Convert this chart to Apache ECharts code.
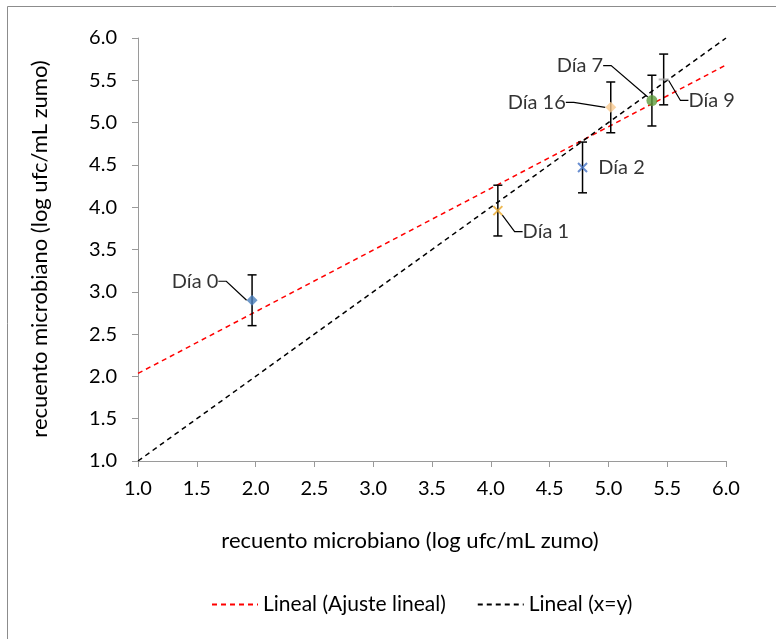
<!DOCTYPE html>
<html>
<head>
<meta charset="utf-8">
<script src="https://cdn.jsdelivr.net/npm/echarts@6/dist/echarts.min.js"></script>
<style>
  html, body { margin: 0; padding: 0; background: #fff; }
  #chart { width: 776px; height: 639px; }
</style>
</head>
<body>
<div id="chart"></div>
<script>
// Sampling days and their microbial counts (log ufc/mL zumo)
const dayLabels = ['Día 0', 'Día 1', 'Día 2', 'Día 7', 'Día 9', 'Día 16'];
const xValues   = [1.97, 4.06, 4.78, 5.37, 5.47, 5.02];
const yValues   = [2.90, 3.96, 4.47, 5.26, 5.51, 5.18];
const yErrors   = [0.30, 0.30, 0.30, 0.30, 0.30, 0.30];

// Axis range and tick step (both axes)
const axisMin = 1.0;
const axisMax = 6.0;
const axisStep = 0.5;

const fitName = 'Lineal (Ajuste lineal)';
const identityName = 'Lineal (x=y)';
const axisTitle = 'recuento microbiano (log ufc/mL zumo)';

// Marker look for each day, plus where its label sits relative to the marker (px)
const CROSS = 'path://M0,0L10,10M10,0L0,10';
const DASH = 'path://M0,4L10,4L10,6L0,6Z';
const markerStyles = [
  { symbol: 'diamond', size: 11, color: '#4A7EBB', dx: -57, dy: -19, leader: true },
  { symbol: CROSS, size: 9, stroke: '#E9A82A', dx: 48, dy: 21, leader: true },
  { symbol: CROSS, size: 9, stroke: '#4472C4', dx: 39, dy: 0, leader: false },
  { symbol: 'circle', size: 11, color: '#5E9C3C', dx: -72, dy: -35, leader: true },
  { symbol: DASH, size: 10, color: '#A5A5A5', dx: 48, dy: 21, leader: true },
  { symbol: 'diamond', size: 11, color: '#F9C98E', dx: -74, dy: -5, leader: true }
];

// Least-squares fit through the measured points
function linearFit(xs, ys) {
  const n = xs.length;
  const mx = xs.reduce((s, v) => s + v, 0) / n;
  const my = ys.reduce((s, v) => s + v, 0) / n;
  let sxy = 0, sxx = 0;
  for (let i = 0; i < n; i++) {
    sxy += (xs[i] - mx) * (ys[i] - my);
    sxx += (xs[i] - mx) * (xs[i] - mx);
  }
  const slope = sxy / sxx;
  return { slope, intercept: my - slope * mx };
}
const fit = linearFit(xValues, yValues);

const fontFamily = 'Lato, "Open Sans", sans-serif';
const textColor = '#000';
const axisColor = '#9A9A9A';

const chart = echarts.init(document.getElementById('chart'), null, { renderer: 'canvas' });

const axisCommon = {
  type: 'value',
  min: axisMin,
  max: axisMax,
  interval: axisStep,
  splitLine: { show: false },
  axisLine: { show: true, onZero: false, lineStyle: { color: axisColor, width: 1 } },
  axisTick: { show: true, inside: false, length: 6, lineStyle: { color: axisColor, width: 1 } },
  axisLabel: {
    color: textColor,
    fontFamily: fontFamily,
    fontSize: 20,
    formatter: v => v.toFixed(1)
  }
};

const series = [
  {
    name: fitName,
    type: 'line',
    data: [[axisMin, fit.intercept + fit.slope * axisMin], [axisMax, fit.intercept + fit.slope * axisMax]],
    symbol: 'none',
    lineStyle: { color: '#FF0000', width: 1.5, type: [5, 4] },
    itemStyle: { color: '#FF0000' },
    z: 2,
    silent: true
  },
  {
    name: identityName,
    type: 'line',
    data: [[axisMin, axisMin], [axisMax, axisMax]],
    symbol: 'none',
    lineStyle: { color: '#000000', width: 1.5, type: [5, 4] },
    itemStyle: { color: '#000000' },
    z: 2,
    silent: true
  },
  {
    name: 'error',
    type: 'custom',
    data: xValues.map((x, i) => [x, yValues[i] - yErrors[i], yValues[i] + yErrors[i]]),
    renderItem: function (params, api) {
      const lo = api.coord([api.value(0), api.value(1)]);
      const hi = api.coord([api.value(0), api.value(2)]);
      const cap = 4.5;
      const style = { stroke: '#000', lineWidth: 1.5 };
      return {
        type: 'group',
        children: [
          { type: 'line', shape: { x1: lo[0], y1: lo[1], x2: hi[0], y2: hi[1] }, style },
          { type: 'line', shape: { x1: lo[0] - cap, y1: lo[1], x2: lo[0] + cap, y2: lo[1] }, style },
          { type: 'line', shape: { x1: hi[0] - cap, y1: hi[1], x2: hi[0] + cap, y2: hi[1] }, style }
        ]
      };
    },
    z: 3,
    silent: true
  }
];

dayLabels.forEach((name, i) => {
  const m = markerStyles[i];
  const isStroke = !!m.stroke;
  series.push({
    name: name,
    type: 'scatter',
    data: [[xValues[i], yValues[i]]],
    symbol: m.symbol,
    symbolSize: m.size,
    symbolKeepAspect: true,
    itemStyle: isStroke
      ? { color: 'rgba(0,0,0,0)', borderColor: m.stroke, borderWidth: 2 }
      : { color: m.color },
    label: {
      show: true,
      position: 'inside',
      formatter: name,
      color: textColor,
      fontFamily: fontFamily,
      fontSize: 20
    },
    labelLayout: { dx: m.dx, dy: m.dy },
    labelLine: {
      show: m.leader,
      length2: 8,
      lineStyle: { color: '#000', width: 1.2 }
    },
    z: 4,
    silent: true
  });
});

chart.setOption({
  animation: false,
  backgroundColor: '#fff',
  grid: { left: 138, right: 50, top: 38, bottom: 178, containLabel: false },
  xAxis: Object.assign({}, axisCommon, {
    axisLabel: Object.assign({}, axisCommon.axisLabel, { margin: 18 })
  }),
  yAxis: Object.assign({}, axisCommon, {
    axisLabel: Object.assign({}, axisCommon.axisLabel, { margin: 21 })
  }),
  legend: {
    data: [fitName, identityName],
    left: 206,
    top: 589,
    itemWidth: 46,
    itemHeight: 12,
    itemGap: 31,
    itemStyle: { opacity: 0, color: 'rgba(0,0,0,0)', borderWidth: 0 },
    textStyle: { color: textColor, fontFamily: fontFamily, fontSize: 21 },
    selectedMode: false
  },
  graphic: [
    {
      type: 'rect',
      shape: { x: 7.5, y: 6.5, width: 800, height: 700 },
      style: { fill: 'none', stroke: '#8C8C8C', lineWidth: 1 },
      silent: true
    },
    {
      type: 'text',
      x: 410,
      y: 541,
      style: {
        text: axisTitle,
        fill: textColor,
        font: '22px ' + fontFamily,
        align: 'center',
        verticalAlign: 'middle'
      },
      silent: true
    },
    {
      type: 'text',
      x: 40,
      y: 249,
      rotation: Math.PI / 2,
      style: {
        text: axisTitle,
        fill: textColor,
        font: '22px ' + fontFamily,
        align: 'center',
        verticalAlign: 'middle'
      },
      silent: true
    }
  ],
  series: series
});
</script>
</body>
</html>
